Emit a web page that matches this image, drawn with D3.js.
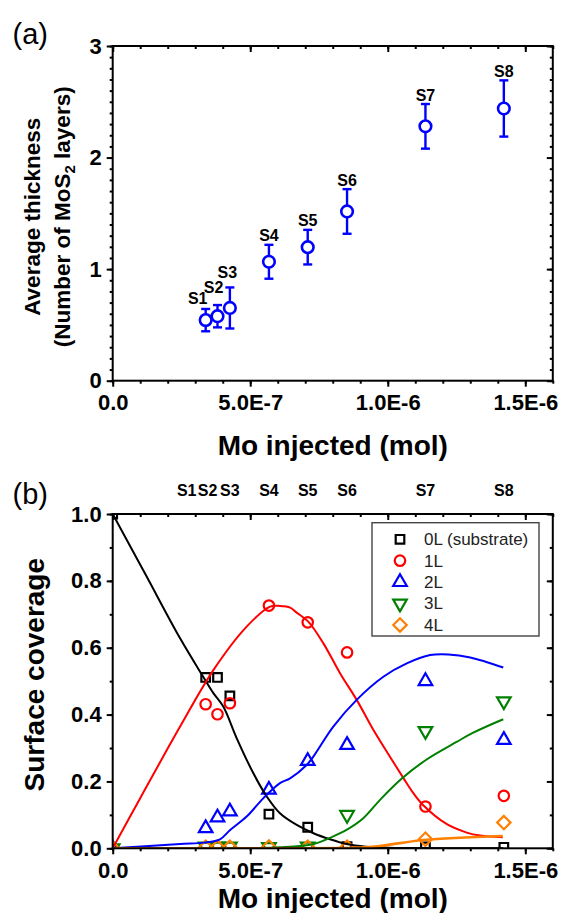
<!DOCTYPE html>
<html>
<head>
<meta charset="utf-8">
<script src="https://cdn.jsdelivr.net/npm/d3@7"></script>
<style>
  body { margin: 0; background: #fff; }
  svg { display: block; font-family: Arial, "Liberation Sans", sans-serif; }
</style>
</head>
<body>
<svg id="chart" width="561" height="913"></svg>
<script>
// samples and Mo dose
const samples = ['S1', 'S2', 'S3', 'S4', 'S5', 'S6', 'S7', 'S8'];
const moInjected = [3.38e-7, 3.81e-7, 4.26e-7, 5.68e-7, 7.09e-7, 8.52e-7, 1.137e-6, 1.422e-6];

// (a) average thickness with error bars
const thickness = [0.543, 0.578, 0.652, 1.066, 1.197, 1.517, 2.28, 2.44];
const thicknessErr = [0.10, 0.10, 0.184, 0.152, 0.155, 0.20, 0.20, 0.252];

// (b) surface coverage, first point is the bare substrate at x = 0
const coverageX = [0, ...moInjected];
const cov0L = [1.0, 0.511, 0.511, 0.456, 0.102, 0.063, 0.005, 0.004, 0.003];
const cov1L = [0, 0.431, 0.401, 0.434, 0.726, 0.676, 0.586, 0.125, 0.157];
const cov2L = [0, 0.060, 0.092, 0.110, 0.175, 0.261, 0.309, 0.500, 0.324];
const cov3L = [0, 0.005, 0.005, 0.005, 0.004, 0.005, 0.100, 0.351, 0.440];
const cov4L = [0, 0.003, 0.003, 0.003, 0.004, 0.003, 0.003, 0.027, 0.077];

// model curves
const fit0LX = [0, 1.2e-7, 2.45e-7, 3.29e-7, 3.66e-7, 4.02e-7, 4.51e-7, 5.11e-7, 5.6e-7, 6.08e-7, 6.69e-7, 7.3e-7, 7.9e-7, 8.5e-7, 9.2e-7, 1.0e-6, 1.1e-6, 1.2e-6, 1.42e-6];
const fit0LY = [1.0, 0.818, 0.628, 0.513, 0.464, 0.424, 0.329, 0.225, 0.155, 0.105, 0.070, 0.045, 0.027, 0.013, 0.005, 0.002, 0.001, 0, 0];
const fit1LX = [0, 1e-7, 2.45e-7, 3.66e-7, 4.87e-7, 5.72e-7, 6.08e-7, 6.45e-7, 6.69e-7, 7.11e-7, 7.66e-7, 8.27e-7, 8.87e-7, 9.48e-7, 1.008e-6, 1.057e-6, 1.093e-6, 1.13e-6, 1.215e-6, 1.287e-6, 1.336e-6, 1.418e-6];
const fit1LY = [0, 0.150, 0.364, 0.533, 0.663, 0.723, 0.725, 0.720, 0.705, 0.678, 0.613, 0.523, 0.444, 0.354, 0.274, 0.210, 0.165, 0.128, 0.072, 0.047, 0.038, 0.033];
const fit2LX = [0, 2.45e-7, 3.32e-7, 3.9e-7, 4.27e-7, 4.87e-7, 5.48e-7, 6.08e-7, 6.45e-7, 7.05e-7, 7.3e-7, 8.02e-7, 8.87e-7, 9.84e-7, 1.069e-6, 1.154e-6, 1.22e-6, 1.3e-6, 1.42e-6];
const fit2LY = [0, 0.013, 0.017, 0.027, 0.055, 0.095, 0.150, 0.195, 0.209, 0.249, 0.275, 0.364, 0.444, 0.513, 0.553, 0.578, 0.580, 0.571, 0.541];
const fit3LX = [0, 5e-7, 6.08e-7, 7.3e-7, 8.0e-7, 8.5e-7, 9.11e-7, 9.72e-7, 1.05e-6, 1.14e-6, 1.25e-6, 1.309e-6, 1.42e-6];
const fit3LY = [0, 0.001, 0.003, 0.013, 0.035, 0.055, 0.090, 0.145, 0.208, 0.265, 0.318, 0.345, 0.386];
const fit4LX = [0, 5e-7, 9.0e-7, 9.72e-7, 1.13e-6, 1.418e-6];
const fit4LY = [0, 0, 0.002, 0.007, 0.025, 0.037];

// axis ticks
const xTickValues = [0, 5e-7, 1e-6, 1.5e-6];
const xTickLabels = ['0.0', '5.0E-7', '1.0E-6', '1.5E-6'];
const yTickA = [0, 1, 2, 3];
const yTickALabels = ['0', '1', '2', '3'];
const yTickB = [0, 0.2, 0.4, 0.6, 0.8, 1.0];
const yTickBLabels = ['0.0', '0.2', '0.4', '0.6', '0.8', '1.0'];

const seriesNames = ['0L (substrate)', '1L', '2L', '3L', '4L'];

// ---- layout
const plotLeft = 112.7, plotRight = 552.8;
const panelA = { top: 46, bottom: 380.7 };
const panelB = { top: 514, bottom: 848.3 };
const colors = ['#000000', '#ff0000', '#0000ff', '#008000', '#ff8000'];

const svg = d3.select('#chart');

const x = d3.scaleLinear().domain([0, 1.6e-6]).range([plotLeft, plotRight]);
const yA = d3.scaleLinear().domain([0, 3]).range([panelA.bottom, panelA.top]);
const yB = d3.scaleLinear().domain([0, 1]).range([panelB.bottom, panelB.top]);

const xMinor = d3.range(0, 17).map(i => i * 1e-7);

function styleAxis(g) {
    g.select('.domain').remove();
    g.selectAll('line').attr('stroke', '#000').attr('stroke-width', 2);
    g.selectAll('text')
        .attr('fill', '#000')
        .style('font-family', 'Arial, "Liberation Sans", sans-serif')
        .style('font-size', '22px')
        .style('font-weight', 'bold');
}

function drawFrame(y, top, bottom, yMajor, yLabels, yMinor) {
    const g = svg.append('g');

    // bottom: ticks outward, with labels
    g.append('g').attr('transform', `translate(0,${bottom})`)
        .call(d3.axisBottom(x).tickValues(xMinor).tickSize(3).tickFormat(''))
        .call(styleAxis);
    g.append('g').attr('transform', `translate(0,${bottom})`)
        .call(d3.axisBottom(x).tickValues(xTickValues).tickSize(6).tickPadding(8)
            .tickFormat((d, i) => xTickLabels[i]))
        .call(styleAxis);

    // top: ticks inward
    g.append('g').attr('transform', `translate(0,${top})`)
        .call(d3.axisTop(x).tickValues(xMinor).tickSize(-3).tickFormat(''))
        .call(styleAxis);
    g.append('g').attr('transform', `translate(0,${top})`)
        .call(d3.axisTop(x).tickValues(xTickValues).tickSize(-6).tickFormat(''))
        .call(styleAxis);

    // left: ticks outward, with labels
    g.append('g').attr('transform', `translate(${plotLeft},0)`)
        .call(d3.axisLeft(y).tickValues(yMinor).tickSize(3).tickFormat(''))
        .call(styleAxis);
    g.append('g').attr('transform', `translate(${plotLeft},0)`)
        .call(d3.axisLeft(y).tickValues(yMajor).tickSize(6).tickPadding(5)
            .tickFormat((d, i) => yLabels[i]))
        .call(styleAxis);

    // right: ticks inward
    g.append('g').attr('transform', `translate(${plotRight},0)`)
        .call(d3.axisRight(y).tickValues(yMinor).tickSize(-3).tickFormat(''))
        .call(styleAxis);
    g.append('g').attr('transform', `translate(${plotRight},0)`)
        .call(d3.axisRight(y).tickValues(yMajor).tickSize(-6).tickFormat(''))
        .call(styleAxis);

    g.append('rect')
        .attr('x', plotLeft).attr('y', top)
        .attr('width', plotRight - plotLeft).attr('height', bottom - top)
        .attr('fill', 'none').attr('stroke', '#000').attr('stroke-width', 2);
}

function xTitle(yPos) {
    svg.append('text')
        .attr('x', (plotLeft + plotRight) / 2).attr('y', yPos).attr('dy', '0.35em')
        .attr('text-anchor', 'middle')
        .style('font-size', '28px').style('font-weight', 'bold')
        .text('Mo injected (mol)');
}

// ================= panel (a)
const minorA = d3.range(0, 31).map(i => i * 0.1);
drawFrame(yA, panelA.top, panelA.bottom, yTickA, yTickALabels, minorA);

const gA = svg.append('g');
const ptsA = samples.map((s, i) => ({ s, x: moInjected[i], y: thickness[i], e: thicknessErr[i] }));

// error bars
gA.selectAll('.err').data(ptsA).join('g').attr('class', 'err')
    .each(function (d) {
        const g = d3.select(this);
        const cx = x(d.x), y1 = yA(d.y + d.e), y0 = yA(d.y - d.e);
        g.append('line').attr('x1', cx).attr('x2', cx).attr('y1', y1).attr('y2', y0);
        g.append('line').attr('x1', cx - 4.5).attr('x2', cx + 4.5).attr('y1', y1).attr('y2', y1);
        g.append('line').attr('x1', cx - 4.5).attr('x2', cx + 4.5).attr('y1', y0).attr('y2', y0);
    })
    .selectAll('line').attr('stroke', '#0000ff').attr('stroke-width', 2.4);

gA.selectAll('circle').data(ptsA).join('circle')
    .attr('cx', d => x(d.x)).attr('cy', d => yA(d.y)).attr('r', 5.8)
    .attr('fill', '#fff').attr('stroke', '#0000ff').attr('stroke-width', 2.6);

// sample labels above the error bars
const labelNudgeA = [[-8, -11], [-4, -18], [-2.5, -15], [0, -9], [0, -9], [0, -9], [0, -9], [0, -9]];
gA.selectAll('.slab').data(ptsA).join('text').attr('class', 'slab')
    .attr('x', (d, i) => x(d.x) + labelNudgeA[i][0])
    .attr('y', (d, i) => yA(d.y + d.e) + labelNudgeA[i][1])
    .attr('dy', '0.35em').attr('text-anchor', 'middle')
    .style('font-size', '16px').style('font-weight', 'bold')
    .text(d => d.s);

// axis titles
const yTitleA = svg.append('g').attr('transform', 'translate(32,216.8) rotate(-90)');
yTitleA.append('text').attr('text-anchor', 'middle').attr('dy', '0.35em')
    .style('font-size', '22.5px').style('font-weight', 'bold')
    .text('Average thickness');
const line2 = svg.append('g').attr('transform', 'translate(62.6,216.8) rotate(-90)')
    .append('text').attr('text-anchor', 'middle').attr('dy', '0.35em')
    .style('font-size', '22.5px').style('font-weight', 'bold');
line2.append('tspan').text('(Number of MoS');
line2.append('tspan').attr('dy', 5).style('font-size', '15px').text('2');
line2.append('tspan').attr('dy', -5).text(' layers)');

xTitle(445);

svg.append('text').attr('x', 12.5).attr('y', 44)
    .style('font-size', '29px').text('(a)');

// ================= panel (b)
const minorB = d3.range(0, 11).map(i => i * 0.1);
svg.append('defs').append('clipPath').attr('id', 'clipB')
    .append('rect')
    .attr('x', plotLeft).attr('y', panelB.top)
    .attr('width', plotRight - plotLeft).attr('height', panelB.bottom - panelB.top);

const gB = svg.append('g').attr('clip-path', 'url(#clipB)');

const fits = [
    [fit0LX, fit0LY], [fit1LX, fit1LY], [fit2LX, fit2LY], [fit3LX, fit3LY], [fit4LX, fit4LY]
];
const coverages = [cov0L, cov1L, cov2L, cov3L, cov4L];

const symbols = [
    { type: d3.symbolSquare, size: 74, rot: 0 },
    { type: d3.symbolCircle, size: 86, rot: 0 },
    { type: d3.symbolTriangle, size: 80, rot: 0 },
    { type: d3.symbolTriangle, size: 80, rot: 180 },
    { type: d3.symbolSquare, size: 90, rot: 45 }
];

const line = d3.line().curve(d3.curveCatmullRom.alpha(0.5));

// markers
coverages.forEach((vals, k) => {
    const sym = d3.symbol().type(symbols[k].type).size(symbols[k].size);
    gB.append('g').selectAll('path').data(vals).join('path')
        .attr('d', sym)
        .attr('transform', (d, i) => `translate(${x(coverageX[i])},${yB(d)}) rotate(${symbols[k].rot})`)
        .attr('fill', 'none').attr('stroke', colors[k]).attr('stroke-width', 2.2);
});

// fitted curves
fits.forEach(([fx, fy], k) => {
    gB.append('path')
        .datum(fx.map((v, i) => [x(v), yB(fy[i])]))
        .attr('d', line)
        .attr('fill', 'none').attr('stroke', colors[k])
        .attr('stroke-width', k === 4 ? 2.6 : 2);
});

drawFrame(yB, panelB.top, panelB.bottom, yTickB, yTickBLabels, minorB);

// sample labels along the top
const topNudgeB = [-19, -10, 0, 0, 0, 0, 0, 0];
svg.append('g').selectAll('text').data(samples).join('text')
    .attr('x', (d, i) => x(moInjected[i]) + topNudgeB[i]).attr('y', 490).attr('dy', '0.35em')
    .attr('text-anchor', 'middle')
    .style('font-size', '16px').style('font-weight', 'bold')
    .text(d => d);

// legend
const leg = svg.append('g').attr('transform', 'translate(372,522.7)');
leg.append('rect').attr('width', 167).attr('height', 113.3)
    .attr('fill', '#fff').attr('stroke', '#444').attr('stroke-width', 1.4);
seriesNames.forEach((name, k) => {
    const ry = 16.6 + k * 21.4;
    const sym = d3.symbol().type(symbols[k].type).size(symbols[k].size);
    leg.append('path').attr('d', sym)
        .attr('transform', `translate(28,${ry}) rotate(${symbols[k].rot})`)
        .attr('fill', 'none').attr('stroke', colors[k]).attr('stroke-width', 2.2);
    leg.append('text').attr('x', 52).attr('y', ry).attr('dy', '0.35em')
        .style('font-size', '17px').attr('fill', '#222')
        .text(name);
});

// axis titles
svg.append('g').attr('transform', 'translate(34,674.7) rotate(-90)')
    .append('text').attr('text-anchor', 'middle').attr('dy', '0.35em')
    .style('font-size', '28px').style('font-weight', 'bold')
    .text('Surface coverage');

xTitle(898);

svg.append('text').attr('x', 12.5).attr('y', 504)
    .style('font-size', '29px').text('(b)');
</script>
</body>
</html>
